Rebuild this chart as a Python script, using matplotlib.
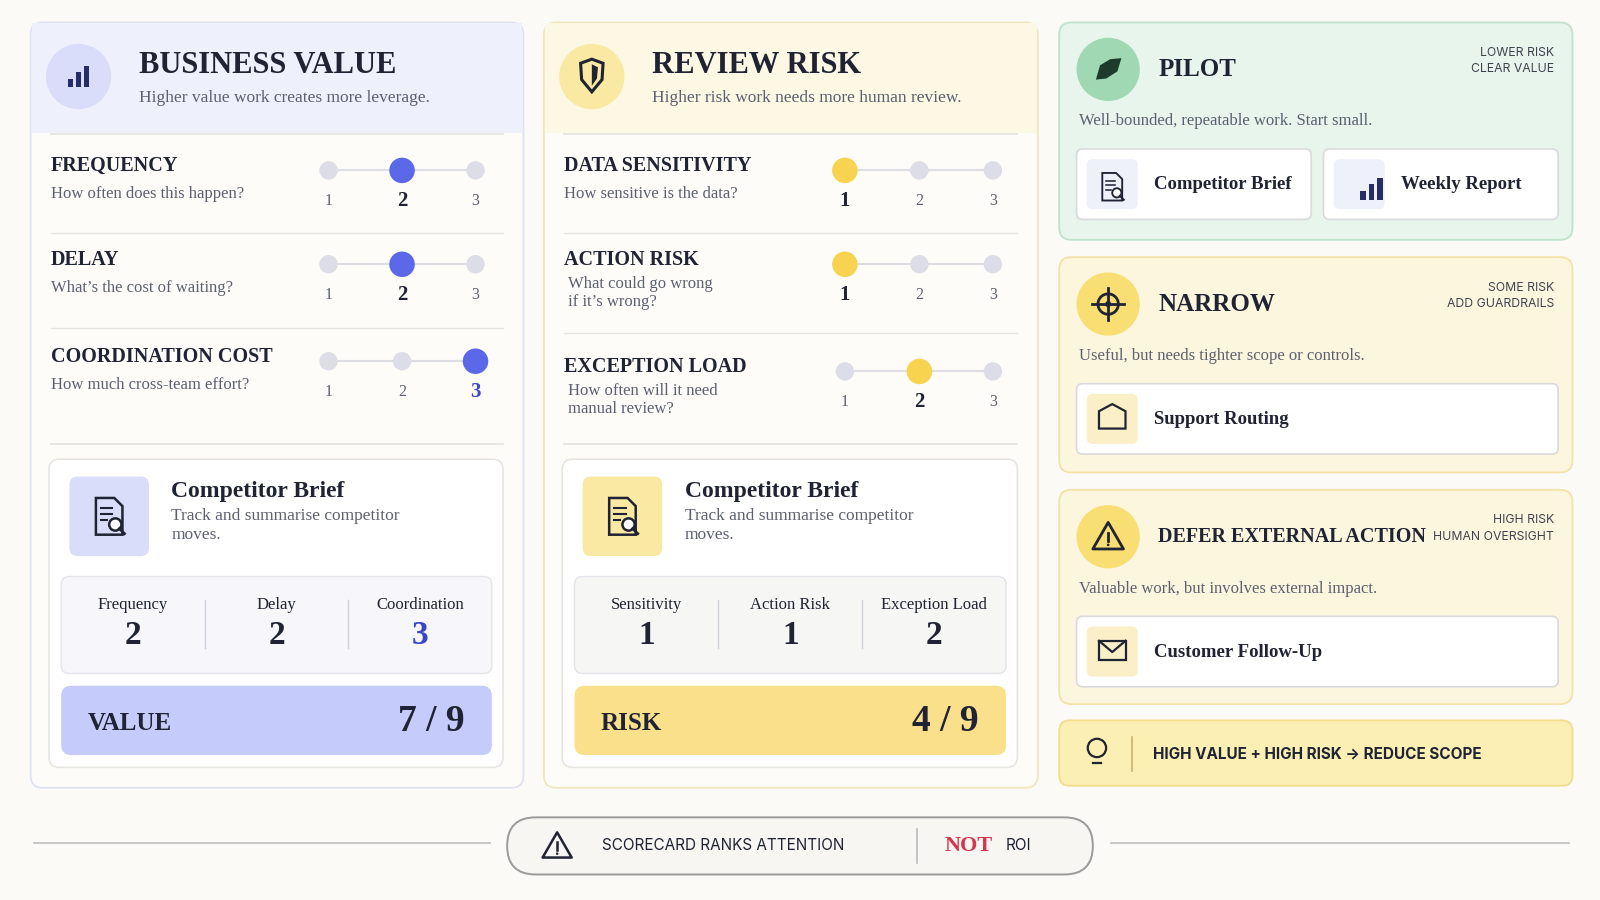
import matplotlib
matplotlib.use("Agg")
import matplotlib.pyplot as plt
from matplotlib.patches import FancyBboxPatch, Circle, Rectangle, Polygon

value_names = ["FREQUENCY", "DELAY", "COORDINATION COST"]
value_desc = ["How often does this happen?", "What’s the cost of waiting?", "How much cross-team effort?"]
value_scores = [2, 2, 3]
value_short = ["Frequency", "Delay", "Coordination"]
risk_names = ["DATA SENSITIVITY", "ACTION RISK", "EXCEPTION LOAD"]
risk_desc = ["How sensitive is the data?", "What could go wrong\nif it’s wrong?", "How often will it need\nmanual review?"]
risk_scores = [1, 1, 2]
risk_short = ["Sensitivity", "Action Risk", "Exception Load"]
scale_labels = ["1", "2", "3"]
task_name = "Competitor Brief"
task_desc = "Track and summarise competitor\nmoves."
pilot_items = ["Competitor Brief", "Weekly Report"]
narrow_items = ["Support Routing"]
defer_items = ["Customer Follow-Up"]

SERIF = ["Liberation Serif", "DejaVu Serif"]
SANS = ["Inter", "DejaVu Sans"]
DARK = "#1f2333"
GREY = "#5c6070"

fig = plt.figure(figsize=(16, 9), dpi=100)
ax = fig.add_axes([0, 0, 1, 1])
ax.set_xlim(0, 1568); ax.set_ylim(882, 0); ax.axis("off")
fig.patch.set_facecolor("#fbfaf7")

def rbox(x0, y0, x1, y1, r=10, fc="white", ec="none", lw=1.2, z=1):
    ax.add_patch(FancyBboxPatch((x0, y0), x1 - x0, y1 - y0,
                 boxstyle=f"round,pad=0,rounding_size={r}", fc=fc, ec=ec, lw=lw, zorder=z))

def txt(x, y, s, size=12, fam=SERIF, w="normal", c=DARK, ha="left", va="center", z=5, ls=1.2):
    ax.text(x, y, s, fontsize=size, family=fam, weight=w, color=c, ha=ha, va=va, zorder=z, linespacing=ls)

def bars_icon(cx, cy, c, s=1.0):
    for i, h in enumerate([8, 14, 20]):
        ax.add_patch(Rectangle((cx - 10*s + i*7.5*s, cy + 10*s - h*s), 5*s, h*s, fc=c, zorder=6))

def doc_icon(cx, cy, c, s=1.0):
    ax.add_patch(Polygon([(cx-13*s, cy-18*s), (cx+5*s, cy-18*s), (cx+13*s, cy-10*s), (cx+13*s, cy+18*s), (cx-13*s, cy+18*s)],
                 closed=True, fc="none", ec=c, lw=1.8*s, zorder=6))
    for k in range(3):
        ax.plot([cx-8*s, cx+(3 if k < 2 else -2)*s], [cy-8*s+k*6*s]*2, color=c, lw=1.5*s, zorder=6)
    ax.add_patch(Circle((cx+6*s, cy+8*s), 6*s, fc="white", ec=c, lw=1.8*s, zorder=7))
    ax.plot([cx+10*s, cx+15*s], [cy+12*s, cy+17*s], color=c, lw=2*s, zorder=7)

def panel(x0, x1, hdr_fc, border, circ_fc, title, sub, names, descs, scores, shorts, accent, sel_lab, bar_fc, bar_lab, total, icon):
    rbox(x0, 22, x1, 772, 12, fc="#fdfcf9", ec=border, lw=1.3)
    ax.add_patch(Rectangle((x0+1, 23), x1-x0-2, 107, fc=hdr_fc, ec="none", zorder=1.5))
    ax.add_patch(Circle((x0+47, 75), 32, fc=circ_fc, zorder=3))
    icon(x0+47, 75)
    txt(x0+106, 64, title, 22, w="bold")
    txt(x0+106, 96, sub, 12.5, c=GREY)
    ax.plot([x0+20, x1-20], [131, 131], color="#e3e2de", lw=1.2, zorder=2)
    rows = [165, 257, 352] if len(descs[1].split("\n")) == 1 else [165, 257, 362]
    sx = [x0+292, x0+364, x0+436] if x0 < 500 else [x0+295, x0+368, x0+440]
    for i, (n, d, s) in enumerate(zip(names, descs, scores)):
        y = rows[i]
        txt(x0+20, y-2, n, 14.5, w="bold")
        if "\n" in d:
            txt(x0+24, y+13, d, 12, c=GREY, va="top")
        else:
            txt(x0+20, y+25, d, 12, c=GREY)
        ax.plot([sx[0], sx[2]], [y+2]*2, color="#dddde4", lw=1.5, zorder=3)
        for k in range(3):
            sel = (k+1) == s
            ax.add_patch(Circle((sx[k], y+2), 12.5 if sel else 9, fc=accent if sel else "#dcdde6", zorder=4))
            txt(sx[k], y+32, scale_labels[k], 15 if sel else 11.5, w="bold" if sel else "normal",
                c=sel_lab if (sel and k == 2) else (DARK if sel else GREY), ha="center")
        if i < 2:
            ax.plot([x0+20, x1-20], [(rows[i]+rows[i+1])/2 + 17]*2, color="#e6e5e1", lw=1, zorder=2)
    ax.plot([x0+20, x1-20], [435, 435], color="#e3e2de", lw=1.2, zorder=2)
    rbox(x0+18, 450, x1-20, 752, 10, fc="white", ec="#e6e5e1", lw=1.2, z=2)
    rbox(x0+38, 467, x0+116, 545, 8, fc=circ_fc, z=3)
    doc_icon(x0+77, 506, DARK)
    txt(x0+138, 482, task_name, 17, w="bold")
    txt(x0+138, 498, task_desc, 12.5, c=GREY, va="top", ls=1.25)
    rbox(x0+30, 565, x1-31, 660, 8, fc="#f6f6fb" if x0 < 500 else "#f6f6f4", ec="#e4e4ea", lw=1, z=3)
    w = (x1-31 - (x0+30)) / 3
    for k in range(3):
        cx = x0+30 + w*k + w/2
        txt(cx, 593, shorts[k], 12, c=DARK, ha="center")
        txt(cx, 623, str(scores[k]), 24, w="bold", c=sel_lab if (scores[k] == 3) else DARK, ha="center")
        if k:
            ax.plot([x0+30+w*k]*2, [588, 635], color="#cfd0da", lw=1, zorder=4)
    rbox(x0+30, 672, x1-31, 740, 10, fc=bar_fc, z=3)
    txt(x0+56, 709, bar_lab, 18, w="bold")
    txt(x1-58, 707, f"{total} / 9", 27, w="bold", ha="right")

def shield(cx, cy):
    ax.add_patch(Polygon([(cx-11, cy-13), (cx, cy-17), (cx+11, cy-13), (cx+10, cy+3), (cx, cy+15), (cx-10, cy+3)],
                 closed=True, fc="none", ec=DARK, lw=2.2, zorder=6))
    ax.add_patch(Polygon([(cx, cy-12), (cx+6, cy-9), (cx+5, cy+2), (cx, cy+9)], closed=True, fc=DARK, zorder=6))

panel(30, 513, "#eef0fc", "#dfe2f3", "#d9ddfa", "BUSINESS VALUE", "Higher value work creates more leverage.",
      value_names, value_desc, value_scores, value_short, "#5b68e8", "#3a46c8", "#c5cbfa", "VALUE",
      sum(value_scores), lambda cx, cy: bars_icon(cx, cy, "#262c66"))
panel(533, 1017, "#fdf8e3", "#f1e6bd", "#f9e9a2", "REVIEW RISK", "Higher risk work needs more human review.",
      risk_names, risk_desc, risk_scores, risk_short, "#f7d34f", DARK, "#fbe08b", "RISK",
      sum(risk_scores), shield)

def rpanel(y0, y1, fc, ec, circ, title, tsize, tag, sub, items, icon):
    rbox(1038, y0, 1541, y1, 12, fc=fc, ec=ec, lw=1.3)
    ax.add_patch(Circle((1086, y0+46), 31, fc=circ, zorder=3))
    icon(1086, y0+46)
    txt(1135, y0+46, title, tsize, w="bold")
    txt(1523, y0+38, tag, 8.8, fam=SANS, c="#40434f", ha="right", ls=1.5)
    txt(1057, y0+97, sub, 12, c=GREY)
    n = len(items)
    wbox = (1527 - 1055 - 12*(n-1)) / n
    for k, it in enumerate(items):
        bx = 1055 + k*(wbox+12)
        rbox(bx, y0+124, bx+wbox, y0+193, 6, fc="white", ec="#d9d9de", lw=1.2, z=3)
        rbox(bx+10, y0+134, bx+60, y0+183, 6, fc="#eef0fa" if fc == "#e7f5ec" else "#fbefc8", z=4)
        txt(bx+76, y0+159, it, 13.5, w="bold")
    return n

def leaf(cx, cy):
    ax.add_patch(Polygon([(cx-12, cy+10), (cx-8, cy-4), (cx+2, cy-10), (cx+13, cy-11), (cx+9, cy+2), (cx-2, cy+9)],
                 closed=True, fc="#1d3b2a", zorder=6))
def target(cx, cy):
    ax.add_patch(Circle((cx, cy), 10, fc="none", ec=DARK, lw=2, zorder=6))
    ax.add_patch(Circle((cx, cy), 3, fc=DARK, zorder=6))
    ax.plot([cx-16, cx+16], [cy, cy], color=DARK, lw=2, zorder=6)
    ax.plot([cx, cx], [cy-16, cy+16], color=DARK, lw=2, zorder=6)
def warn(cx, cy, s=1.0, lw=2):
    ax.add_patch(Polygon([(cx, cy-14*s), (cx+15*s, cy+12*s), (cx-15*s, cy+12*s)], closed=True, fc="none", ec=DARK, lw=lw, zorder=6, joinstyle="round"))
    ax.plot([cx, cx], [cy-4*s, cy+4*s], color=DARK, lw=lw, zorder=6)
    ax.add_patch(Circle((cx, cy+8*s), 1.3*s, fc=DARK, zorder=6))

rpanel(22, 235, "#e7f5ec", "#bfe2cb", "#9fd8b3", "PILOT", 18, "LOWER RISK\nCLEAR VALUE",
       "Well-bounded, repeatable work. Start small.", pilot_items, leaf)
doc_icon(1090, 183, DARK, 0.75)
bars_icon(1344, 185, "#262c66", 1.1)
rpanel(252, 463, "#fdf6de", "#f3e2a8", "#f9de74", "NARROW", 18, "SOME RISK\nADD GUARDRAILS",
       "Useful, but needs tighter scope or controls.", narrow_items, target)
ax.add_patch(Polygon([(1077, 403), (1090, 396), (1103, 403), (1103, 420), (1077, 420)], closed=True, fc="none", ec=DARK, lw=1.6, zorder=6))
rpanel(480, 690, "#fdf6de", "#f3e2a8", "#f9de74", "DEFER EXTERNAL ACTION", 14.5, "HIGH RISK\nHUMAN OVERSIGHT",
       "Valuable work, but involves external impact.", defer_items, lambda cx, cy: warn(cx, cy))
ax.add_patch(Rectangle((1077, 628), 26, 19, fc="none", ec=DARK, lw=1.6, zorder=6))
ax.plot([1077, 1090, 1103], [628, 639, 628], color=DARK, lw=1.6, zorder=6)

rbox(1038, 706, 1541, 770, 10, fc="#fcefb4", ec="#f1dd8a", lw=1.3)
ax.add_patch(Circle((1075, 733), 9, fc="none", ec=DARK, lw=1.6, zorder=6))
ax.plot([1071, 1079], [748, 748], color=DARK, lw=1.6, zorder=6)
ax.plot([1109, 1109], [722, 756], color="#c9b56a", lw=1.2, zorder=6)
txt(1130, 739, "HIGH VALUE + HIGH RISK → REDUCE SCOPE", 11, fam=SANS, w="bold")

ax.plot([33, 480], [826, 826], color="#bdbdbd", lw=1.2)
ax.plot([1089, 1538], [826, 826], color="#bdbdbd", lw=1.2)
rbox(497, 801, 1071, 857, 28, fc="#f7f6f3", ec="#9a9a9a", lw=1.4)
warn(546, 829, 0.95, 1.8)
txt(590, 829, "SCORECARD RANKS ATTENTION", 11, fam=SANS, c=DARK)
ax.plot([899, 899], [812, 846], color="#bbbbbb", lw=1.2)
txt(926, 829, "NOT", 16, w="bold", c="#d8344c")
txt(986, 829, "ROI", 11, fam=SANS, c=DARK)

fig.savefig("out.png", dpi=100, facecolor=fig.get_facecolor())
